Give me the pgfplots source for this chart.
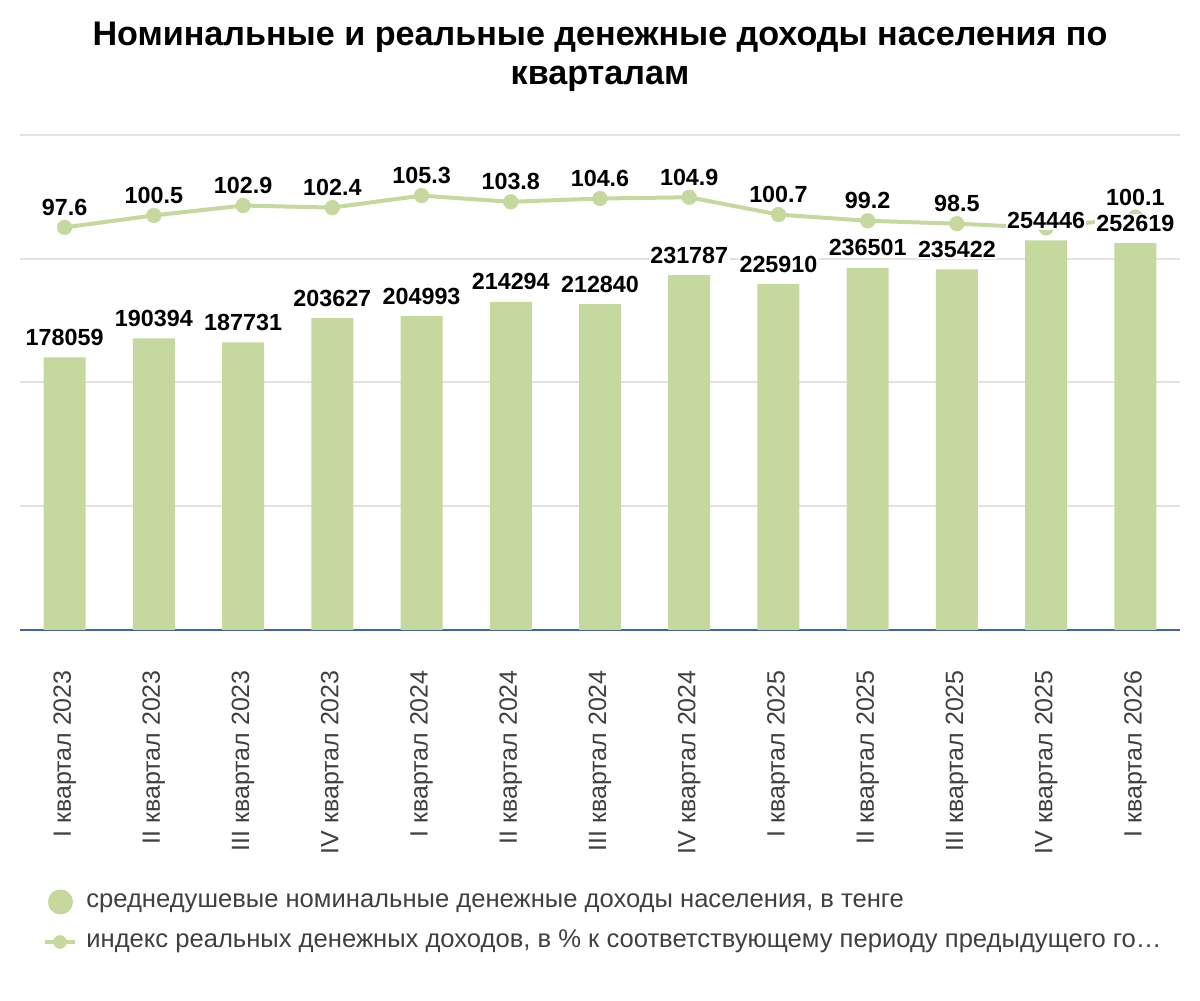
\documentclass[border=0pt]{standalone}
\usepackage{fontspec}
\setmainfont{Liberation Sans}
\usepackage{pgfplots}
\pgfplotsset{compat=1.18}
\definecolor{barc}{HTML}{C5D89E}
\definecolor{gridc}{HTML}{E2E2E2}
\definecolor{basec}{HTML}{44659C}
\definecolor{txtc}{HTML}{404040}

\pgfplotstableread{
x y lab
0 97.6 97.6
1 100.5 100.5
2 102.9 102.9
3 102.4 102.4
4 105.3 105.3
5 103.8 103.8
6 104.6 104.6
7 104.9 104.9
8 100.7 100.7
9 99.2 99.2
10 98.5 98.5
11 97.5 {}
12 100.1 100.1
}\lineTab

\pgfplotstableread{
x y lab
0 178059 178059
1 190394 190394
2 187731 187731
3 203627 203627
4 204993 204993
5 214294 214294
6 212840 212840
7 231787 231787
8 225910 225910
9 236501 236501
10 235422 235422
11 254446 254446
12 252619 252619
}\barTab

\begin{document}
\begin{tikzpicture}
\path[use as bounding box] (0,0) rectangle (900pt,750pt);
\node[font=\fontsize{25.6pt}{30pt}\selectfont\bfseries, anchor=base] at (450pt,715.5pt) {Номинальные и реальные денежные доходы населения по};
\node[font=\fontsize{25.6pt}{30pt}\selectfont\bfseries, anchor=base] at (450pt,686.5pt) {кварталам};

% secondary axis (line + grid)
\begin{axis}[
  at={(15pt,277.5pt)}, anchor=south west,
  scale only axis, width=870pt, height=371.25pt,
  xmin=-0.5, xmax=12.5, ymin=0, ymax=120,
  axis line style={draw=none},
  ytick={30,60,90,120}, yticklabels={},
  xtick=\empty,
  major tick length=0pt,
  ymajorgrids, major grid style={gridc, line width=1.5pt},
  clip=false,
]
\addplot[color=barc, line width=3pt, mark=*, mark size=5.6pt,
  mark options={fill=barc, draw=barc, line width=0.2pt},
  point meta=explicit symbolic,
  nodes near coords,
  every node near coord/.append style={anchor=center, yshift=15pt,
    font=\fontsize{17.5pt}{19pt}\selectfont\bfseries, text=black}
] table[x=x, y=y, meta=lab] {\lineTab};
\end{axis}

% primary axis (bars)
\begin{axis}[
  at={(15pt,277.5pt)}, anchor=south west,
  scale only axis, width=870pt, height=371.25pt,
  xmin=-0.5, xmax=12.5, ymin=0, ymax=323200,
  axis y line=none,
  axis x line*=bottom,
  axis line style={basec, line width=1.5pt, -},
  xtick={0,...,12},
  xticklabels={I квартал 2023, II квартал 2023, III квартал 2023, IV квартал 2023,
    I квартал 2024, II квартал 2024, III квартал 2024, IV квартал 2024,
    I квартал 2025, II квартал 2025, III квартал 2025, IV квартал 2025, I квартал 2026},
  xticklabel style={rotate=90, anchor=east, inner sep=0pt,
    font=\fontsize{18.75pt}{20pt}\selectfont, text=txtc},
  xticklabel shift=30pt,
  major tick length=0pt,
  clip=false,
  legend style={at={(0.01983,-0.5238)}, anchor=north west, draw=none, fill=none,
    inner sep=0pt, outer sep=0pt, row sep=11pt, column sep=7pt,
    font=\fontsize{19.2pt}{21pt}\selectfont, text=txtc,
    cells={anchor=west},
    nodes={inner sep=0pt, text height=14pt, text depth=5pt}},
]
\addplot[ybar, bar width=31.5pt, fill=barc, draw=none,
  point meta=explicit symbolic,
  nodes near coords,
  every node near coord/.append style={anchor=center, yshift=15pt,
    font=\fontsize{17.5pt}{19pt}\selectfont\bfseries, text=black,
    fill=white, inner sep=1pt},
  legend image code/.code={\fill[barc] (11.6pt,0pt) circle (9.4pt);
    \path (0pt,0pt) -- (22.5pt,0pt);}
] table[x=x, y=y, meta=lab] {\barTab};
\addlegendentry{среднедушевые номинальные денежные доходы населения, в тенге}
\addlegendimage{legend image code/.code={
  \draw[barc, line width=3pt] (0pt,0pt) -- (22.5pt,0pt);
  \fill[barc] (11.25pt,0pt) circle (4.9pt);}}
\addlegendentry{индекс реальных денежных доходов, в \% к соответствующему периоду предыдущего го…}
\end{axis}
\end{tikzpicture}
\end{document}
